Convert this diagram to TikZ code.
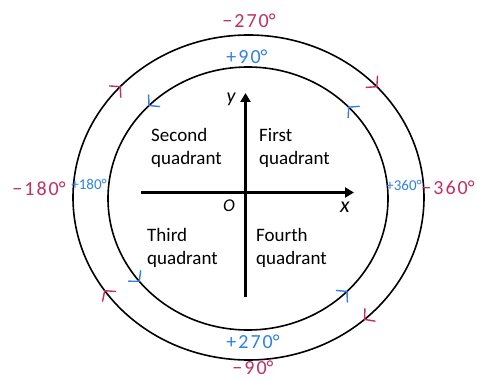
\documentclass[tikz,border=0pt]{standalone}
\usepackage{fontspec}
\setmainfont{Carlito}
\usetikzlibrary{arrows.meta}
\definecolor{mag}{HTML}{C2305E}
\definecolor{blu}{HTML}{2F80E8}
\tikzset{
  ring/.style={line width=1.6pt},
  axis/.style={line width=2.6pt,-{Triangle[length=9pt,width=10pt]}},
  quad/.style={font=\fontsize{19}{23}\selectfont,align=left,inner sep=0pt,anchor=west},
  mlab/.style={text=mag,font=\fontsize{20}{20}\selectfont,inner sep=0pt},
  blab/.style={text=blu,font=\fontsize{20}{20}\selectfont,inner sep=0pt},
  mchev/.pic={\draw[mag,line width=1.4pt,line cap=round,line join=round] (-7pt,8pt) -- (0pt,0pt) -- (-7pt,-8pt);},
  bchev/.pic={\draw[blu,line width=1.4pt,line cap=round,line join=round] (-7pt,8pt) -- (0pt,0pt) -- (-7pt,-8pt);},
}
\newcommand{\dsp}{\kern2pt}
\begin{document}
\begin{tikzpicture}[x=1pt,y=1pt]
\useasboundingbox (0,0) rectangle (477,381);
\coordinate (oc) at (248.5,183.5);
\coordinate (ic) at (248,182.5);
% rings
\draw[ring] (oc) ellipse [x radius=175.5,y radius=162.5];
\draw[ring] (ic) ellipse [x radius=140,y radius=131.5];
% outer ring: clockwise chevrons
\path (oc) ++(137:175.5 and 162.5) pic[rotate=44.8] {mchev};
\path (oc) ++(43:175.5 and 162.5) pic[rotate=-44.8] {mchev};
\path (oc) ++(311.4:175.5 and 162.5) pic[rotate=219.2] {mchev};
\path (oc) ++(215:175.5 and 162.5) pic[rotate=127.1] {mchev};
% inner ring: counterclockwise chevrons
\path (ic) ++(135:140 and 131.5) pic[rotate=223.2] {bchev};
\path (ic) ++(44:140 and 131.5) pic[rotate=135.8] {bchev};
\path (ic) ++(315:140 and 131.5) pic[rotate=43.2] {bchev};
\path (ic) ++(219:140 and 131.5) pic[rotate=-49.2] {bchev};
% axes
\coordinate (xl) at (141,188.5);
\coordinate (xr) at (354,188.5);
\coordinate (yb) at (245.5,84);
\coordinate (yt) at (245.5,288);
\draw[axis] (xl) -- (xr);
\draw[axis] (yb) -- (yt);
\node[font=\fontsize{20}{20}\selectfont\itshape] (ylab) at (231,282) {y};
\node[font=\fontsize{22}{22}\selectfont\itshape] (xlab) at (345,174) {x};
\node[font=\fontsize{18}{18}\selectfont\itshape] (olab) at (229,175) {O};
% quadrant texts
\node[quad] (q2) at (151,233) {Second\\quadrant};
\node[quad] (q1) at (259,233) {First\\quadrant};
\node[quad] (q3) at (147,133) {Third\\quadrant};
\node[quad] (q4) at (256,133) {Fourth\\quadrant};
% angle labels
\node[mlab] (m270) at (249,360) {−\dsp2\dsp7\dsp0°};
\node[blab] (p90) at (247,324) {+\dsp9\dsp0°};
\node[mlab] (m180) at (39,192) {−\dsp1\dsp8\dsp0°};
\node[blab,font=\fontsize{15}{15}\selectfont] (p180) at (89,197) {+180°};
\node[blab,font=\fontsize{15}{15}\selectfont] (p360) at (404,196) {+360°};
\node[mlab] (m360) at (448,193) {−\dsp3\dsp6\dsp0°};
\node[blab] (p270) at (253,39) {+\dsp2\dsp7\dsp0°};
\node[mlab] (m90) at (253,13) {−\dsp9\dsp0°};
\end{tikzpicture}
\end{document}
